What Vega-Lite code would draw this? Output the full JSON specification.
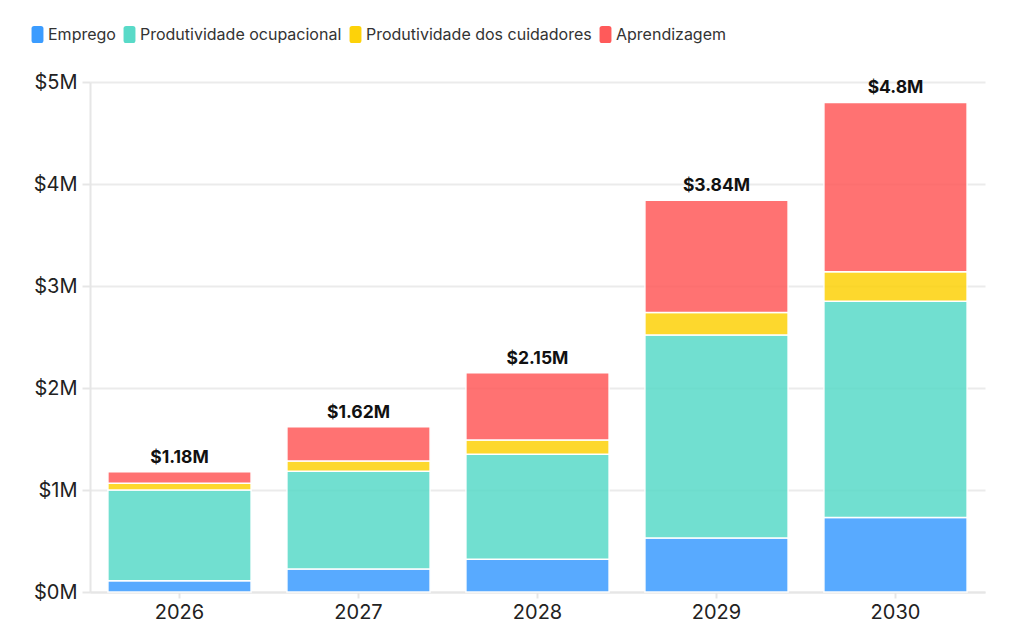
{
  "$schema": "https://vega.github.io/schema/vega-lite/v6.json",
  "width": 895,
  "height": 510,
  "autosize": {"type": "none"},
  "padding": {"left": 90, "top": 82, "right": 26, "bottom": 40},
  "background": "#ffffff",
  "datasets": {
    "parts": [
      {"year": "2026", "serie": "Emprego", "ord": 1, "value": 0.11},
      {"year": "2026", "serie": "Produtividade ocupacional", "ord": 2, "value": 0.89},
      {"year": "2026", "serie": "Produtividade dos cuidadores", "ord": 3, "value": 0.065},
      {"year": "2026", "serie": "Aprendizagem", "ord": 4, "value": 0.115},
      {"year": "2027", "serie": "Emprego", "ord": 1, "value": 0.225},
      {"year": "2027", "serie": "Produtividade ocupacional", "ord": 2, "value": 0.96},
      {"year": "2027", "serie": "Produtividade dos cuidadores", "ord": 3, "value": 0.1},
      {"year": "2027", "serie": "Aprendizagem", "ord": 4, "value": 0.335},
      {"year": "2028", "serie": "Emprego", "ord": 1, "value": 0.32},
      {"year": "2028", "serie": "Produtividade ocupacional", "ord": 2, "value": 1.03},
      {"year": "2028", "serie": "Produtividade dos cuidadores", "ord": 3, "value": 0.14},
      {"year": "2028", "serie": "Aprendizagem", "ord": 4, "value": 0.66},
      {"year": "2029", "serie": "Emprego", "ord": 1, "value": 0.53},
      {"year": "2029", "serie": "Produtividade ocupacional", "ord": 2, "value": 1.99},
      {"year": "2029", "serie": "Produtividade dos cuidadores", "ord": 3, "value": 0.22},
      {"year": "2029", "serie": "Aprendizagem", "ord": 4, "value": 1.1},
      {"year": "2030", "serie": "Emprego", "ord": 1, "value": 0.73},
      {"year": "2030", "serie": "Produtividade ocupacional", "ord": 2, "value": 2.12},
      {"year": "2030", "serie": "Produtividade dos cuidadores", "ord": 3, "value": 0.29},
      {"year": "2030", "serie": "Aprendizagem", "ord": 4, "value": 1.66}
    ],
    "totals": [
      {"year": "2026", "total": 1.18, "label": "$1.18M"},
      {"year": "2027", "total": 1.62, "label": "$1.62M"},
      {"year": "2028", "total": 2.15, "label": "$2.15M"},
      {"year": "2029", "total": 3.84, "label": "$3.84M"},
      {"year": "2030", "total": 4.8, "label": "$4.8M"}
    ]
  },
  "config": {
    "font": "Inter",
    "view": {"stroke": null},
    "axis": {
      "labelFont": "Inter",
      "labelFontSize": 20,
      "labelColor": "#222222",
      "domainColor": "#e6e6e6",
      "domainWidth": 2,
      "tickColor": "#e6e6e6",
      "tickWidth": 2,
      "gridColor": "#ebebeb",
      "gridWidth": 2,
      "title": null
    }
  },
  "layer": [
    {
      "data": {"name": "parts"},
      "mark": {"type": "bar", "opacity": 0.85, "stroke": "#ffffff", "strokeWidth": 1.5, "strokeOpacity": 1},
      "encoding": {
        "x": {
          "field": "year",
          "type": "ordinal",
          "scale": {"paddingInner": 0.2, "paddingOuter": 0.1},
          "axis": {"labelAngle": 0, "tickSize": 6, "labelPadding": 4, "grid": false, "domain": true}
        },
        "y": {
          "field": "value",
          "type": "quantitative",
          "aggregate": "sum",
          "stack": "zero",
          "scale": {"domain": [0, 5], "nice": false},
          "axis": {
            "values": [0, 1, 2, 3, 4, 5],
            "labelExpr": "'$' + datum.value + 'M'",
            "tickSize": 8,
            "labelPadding": 5,
            "grid": true,
            "domain": true
          }
        },
        "color": {
          "field": "serie",
          "type": "nominal",
          "sort": ["Emprego", "Produtividade ocupacional", "Produtividade dos cuidadores", "Aprendizagem"],
          "scale": {
            "domain": ["Emprego", "Produtividade ocupacional", "Produtividade dos cuidadores", "Aprendizagem"],
            "range": ["#3b9cff", "#59dac8", "#fdd209", "#ff5a5a"]
          },
          "legend": {
            "orient": "none",
            "direction": "horizontal",
            "legendX": -61,
            "legendY": -56,
            "title": null,
            "padding": 0,
            "symbolType": "M-0.4,-1H0.4Q0.7,-1 0.7,-0.7V0.7Q0.7,1 0.4,1H-0.4Q-0.7,1 -0.7,0.7V-0.7Q-0.7,-1 -0.4,-1Z",
            "symbolSize": 289,
            "symbolOpacity": 1,
            "symbolStrokeWidth": 0,
            "labelFont": "Inter",
            "labelFontSize": 16,
            "labelColor": "#333333",
            "labelOffset": 2,
            "labelLimit": 400,
            "columnPadding": 5
          }
        },
        "order": {"field": "ord", "type": "quantitative"}
      }
    },
    {
      "data": {"name": "totals"},
      "mark": {"type": "text", "baseline": "bottom", "dy": -5, "fontSize": 17.5, "fontWeight": "bold", "font": "Inter", "color": "#111111"},
      "encoding": {
        "x": {"field": "year", "type": "ordinal"},
        "y": {"field": "total", "type": "quantitative"},
        "text": {"field": "label"}
      }
    }
  ]
}
